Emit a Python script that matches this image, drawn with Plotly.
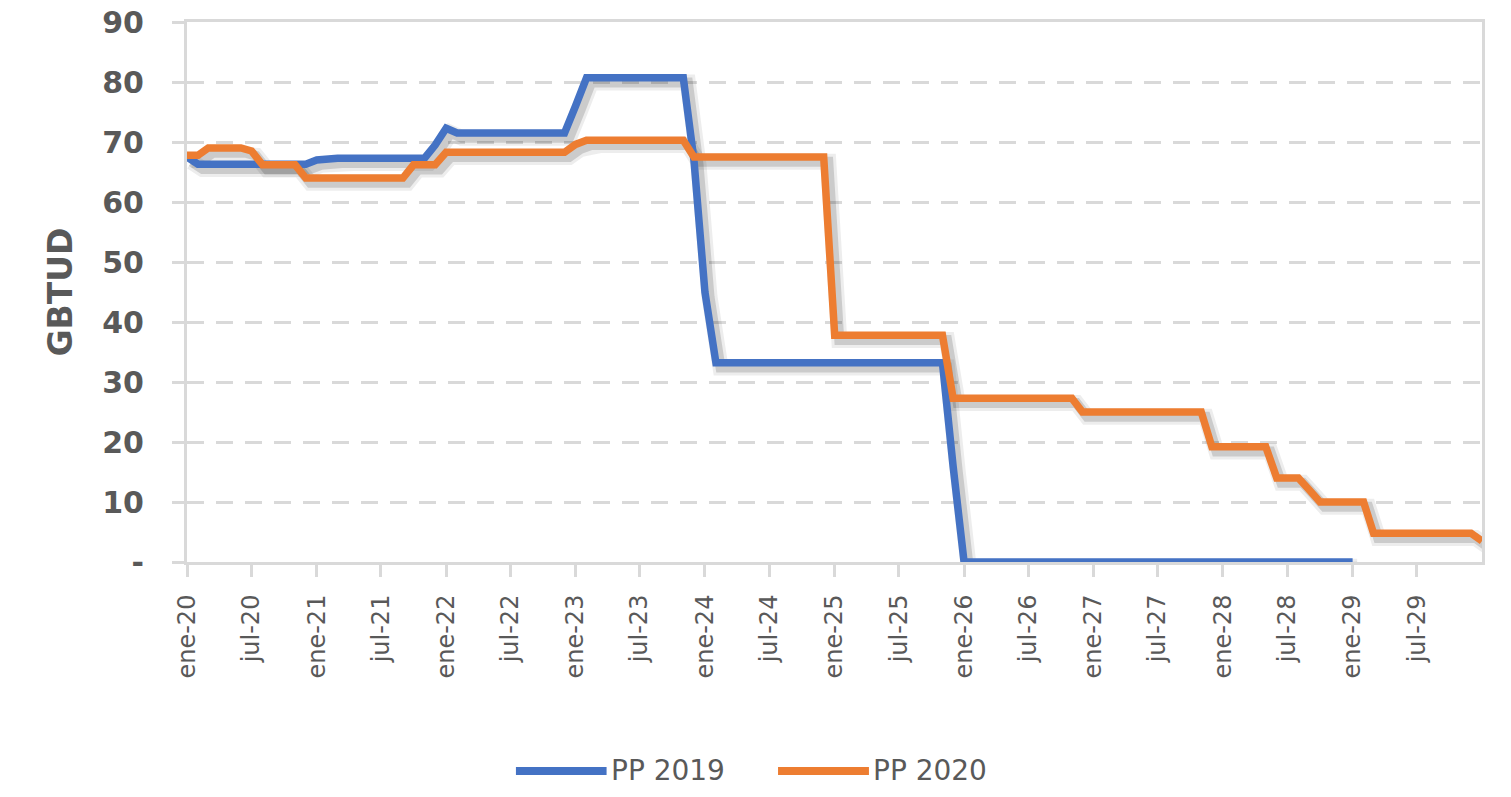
import pandas as pd
import plotly.graph_objects as go

# ---- data (monthly, starting ene-20) ----
months = pd.date_range("2020-01-01", periods=121, freq="MS")

pp2019 = ([67.5] + [66.3] * 11 + [67.0] + [67.3] * 10 + [69.5, 72.3] + [71.5] * 11 +
          [76.0] + [80.7] * 10 + [67.0, 45.0] + [33.2] * 22 + [16.0] + [0.0] * 37)

pp2020 = ([67.8] * 2 + [69.0] * 4 + [68.5] + [66.2] * 4 + [64.0] * 10 + [66.2] * 3 +
          [68.3] * 12 + [69.6] + [70.3] * 10 + [67.5] * 13 + [37.8] * 11 +
          [27.3] * 12 + [25.0] * 12 + [19.2] * 6 + [14.0] * 3 + [12.0] + [10.0] * 5 +
          [4.8] * 10 + [3.5])

series_names = ["PP 2019", "PP 2020"]
series_colors = ["#4472C4", "#ED7D31"]

tick_dates = pd.date_range("2020-01-01", periods=20, freq="6MS")
tick_labels = ["ene-20", "jul-20", "ene-21", "jul-21", "ene-22", "jul-22", "ene-23", "jul-23",
               "ene-24", "jul-24", "ene-25", "jul-25", "ene-26", "jul-26", "ene-27", "jul-27",
               "ene-28", "jul-28", "ene-29", "jul-29"]
y_ticks = [0, 10, 20, 30, 40, 50, 60, 70, 80, 90]
y_labels = ["-", "10", "20", "30", "40", "50", "60", "70", "80", "90"]
y_title = "GBTUD"

# ---- figure ----
x0, x1 = pd.Timestamp("2020-01-01"), pd.Timestamp("2030-01-01")
shift = pd.Timedelta(days=13)
TXT = "#595959"
GRID = "#D9D9D9"

fig = go.Figure()
data = [(months[:len(pp2019)], pp2019), (months[:len(pp2020)], pp2020)]

# invisible base trace so the main (grid/tick) subplot is built
fig.add_trace(go.Scatter(x=data[1][0], y=data[1][1], mode="lines",
                         line=dict(color="rgba(0,0,0,0)", width=1),
                         hoverinfo="skip", showlegend=False))

# shadows (drawn on a slightly offset overlay axis pair)
for (xs, ys) in data:
    fig.add_trace(go.Scatter(x=xs, y=ys, mode="lines", xaxis="x2", yaxis="y2",
                             line=dict(color="rgba(0,0,0,0.07)", width=16),
                             hoverinfo="skip", showlegend=False))
    fig.add_trace(go.Scatter(x=xs, y=ys, mode="lines", xaxis="x2", yaxis="y2",
                             line=dict(color="rgba(0,0,0,0.14)", width=10),
                             hoverinfo="skip", showlegend=False))

for (xs, ys), name, col in zip(data, series_names, series_colors):
    fig.add_trace(go.Scatter(x=xs, y=ys, mode="lines", name=name, xaxis="x3", yaxis="y3",
                             line=dict(color=col, width=7.5), showlegend=False))

fig.update_layout(
    width=1503, height=789,
    margin=dict(l=179, r=29, t=14, b=235, autoexpand=False),
    paper_bgcolor="white", plot_bgcolor="white",
    font=dict(family="DejaVu Sans", color=TXT),
    showlegend=False,
    xaxis=dict(type="date", range=[x0, x1], tickmode="array", tickvals=tick_dates,
               ticktext=tick_labels, tickangle=-90, tickfont=dict(size=24, color=TXT),
               ticks="outside", ticklen=12, tickwidth=3, tickcolor=GRID,
               showline=True, linecolor=GRID, linewidth=3, mirror=True,
               showgrid=False, zeroline=False, ticklabelstandoff=8,
               ticklabeloverflow="allow"),
    yaxis=dict(range=[0, 90], tickmode="array", tickvals=y_ticks, ticktext=y_labels,
               tickfont=dict(size=30, color=TXT, weight="bold"),
               ticks="outside", ticklen=12, tickwidth=3, tickcolor=GRID,
               showline=True, linecolor=GRID, linewidth=3, mirror=True,
               showgrid=True, gridcolor=GRID, gridwidth=3, griddash="17px,12px",
               zeroline=False, ticklabelstandoff=22, ticklabeloverflow="allow",
               title=dict(text=y_title, font=dict(size=33, color=TXT, weight="bold"),
                          standoff=20)),
    xaxis2=dict(type="date", range=[x0 - shift, x1 - shift], overlaying="x", visible=False),
    yaxis2=dict(range=[0.8, 90.8], overlaying="y", visible=False),
    xaxis3=dict(type="date", range=[x0, x1], overlaying="x", visible=False),
    yaxis3=dict(range=[0, 90], overlaying="y", visible=False),
)

# custom legend (long line samples as in the original)
legend_items = [(0.254, 0.324, 0.3255), (0.4564, 0.5266, 0.5281)]
for (lx0, lx1, tx), name, col in zip(legend_items, series_names, series_colors):
    fig.add_shape(type="line", xref="paper", yref="paper", x0=lx0, x1=lx1, y0=-0.387, y1=-0.387,
                  line=dict(color=col, width=8))
    fig.add_annotation(xref="paper", yref="paper", x=tx, y=-0.387, text=name, showarrow=False,
                       xanchor="left", yanchor="middle", font=dict(size=28, color=TXT))

fig.write_html("out.html")
